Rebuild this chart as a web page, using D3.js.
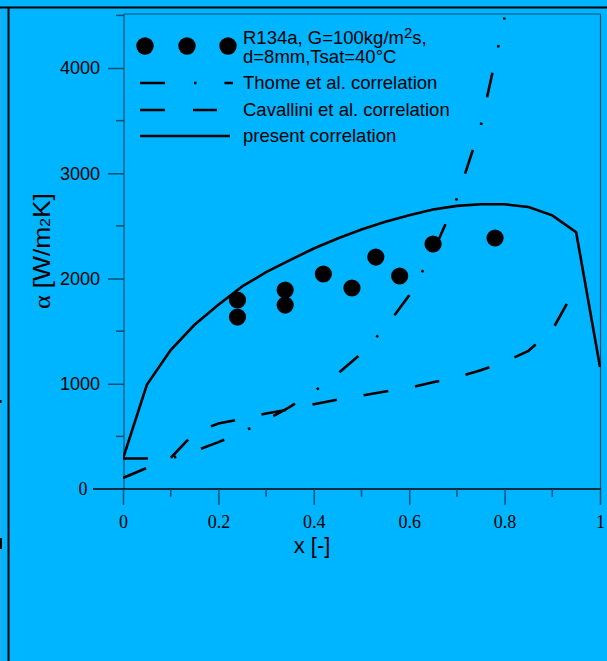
<!DOCTYPE html>
<html>
<head>
<meta charset="utf-8">
<script src="https://cdn.jsdelivr.net/npm/d3@7"></script>
<style>
html,body{margin:0;padding:0;background:#00b5ff;}
svg{display:block;}
</style>
</head>
<body>
<svg id="chart" width="607" height="661"></svg>
<script>
// ---- data ----
const xTickValues = [0, 0.2, 0.4, 0.6, 0.8, 1];
const xTickLabels = ["0", "0.2", "0.4", "0.6", "0.8", "1"];
const xMinorTicks = [0.1, 0.3, 0.5, 0.7, 0.9];
const yTickValues = [1000, 2000, 3000, 4000];
const yTickLabels = ["1000", "2000", "3000", "4000"];
const yMinorTicks = [500, 1500, 2500, 3500, 4500];

const expX = [0.24, 0.24, 0.34, 0.34, 0.42, 0.48, 0.53, 0.58, 0.65, 0.78];
const expY = [1796, 1634, 1891, 1748, 2043, 1910, 2204, 2024, 2328, 2385];

const thomeX = [0, 0.05, 0.1, 0.15, 0.2, 0.25, 0.3, 0.35, 0.4, 0.45, 0.5, 0.55, 0.6, 0.65, 0.7, 0.75, 0.8];
const thomeY = [290, 290, 290, 360, 445, 540, 655, 780, 925, 1095, 1290, 1535, 1840, 2250, 2760, 3450, 4480];

const cavX = [0, 0.05, 0.1, 0.15, 0.2, 0.25, 0.3, 0.35, 0.4, 0.45, 0.5, 0.55, 0.6, 0.65, 0.7, 0.75, 0.8, 0.85, 0.9, 0.95];
const cavY = [105, 200, 295, 535, 622, 668, 718, 756, 805, 850, 888, 926, 962, 1014, 1062, 1128, 1208, 1313, 1510, 1920];

const presX = [0, 0.05, 0.1, 0.15, 0.2, 0.25, 0.3, 0.35, 0.4, 0.45, 0.5, 0.55, 0.6, 0.65, 0.7, 0.75, 0.8, 0.85, 0.9, 0.95, 1];
const presY = [290, 990, 1320, 1560, 1750, 1925, 2060, 2175, 2285, 2380, 2465, 2540, 2600, 2655, 2690, 2705, 2705, 2680, 2600, 2440, 1160];

const legendLabels = ["Thome et al. correlation", "Cavallini et al. correlation", "present correlation"];

// ---- drawing ----
const svg = d3.select("#chart");
const x = d3.scaleLinear().domain([0, 1]).range([123, 600]);
const y = d3.scaleLinear().domain([0, 4500]).range([489, 15.4]);
const axisCol = "#0b4f72";

// outer frame decorations
svg.append("line").attr("x1", 0).attr("x2", 607).attr("y1", 7.5).attr("y2", 7.5).attr("stroke", "#000").attr("stroke-width", 2);
svg.append("line").attr("x1", 8.5).attr("x2", 8.5).attr("y1", 7).attr("y2", 661).attr("stroke", "#000").attr("stroke-width", 2);
svg.append("line").attr("x1", 0.5).attr("x2", 0.5).attr("y1", 10).attr("y2", 661).attr("stroke", "#3aa6d6").attr("stroke-width", 1);
svg.append("rect").attr("x", 0).attr("y", 400).attr("width", 1.5).attr("height", 3).attr("fill", "#000");
svg.append("rect").attr("x", 0).attr("y", 538).attr("width", 2).attr("height", 11).attr("fill", "#000");

// plot frame (top & right)
svg.append("line").attr("x1", 124).attr("x2", 600.5).attr("y1", 14).attr("y2", 14).attr("stroke", axisCol).attr("stroke-width", 1.2);
svg.append("line").attr("x1", 600.5).attr("x2", 600.5).attr("y1", 14).attr("y2", 489).attr("stroke", axisCol).attr("stroke-width", 1.2);

// y axis
const yAxis = d3.axisLeft(y).tickValues(yTickValues).tickFormat((d, i) => yTickLabels[i]).tickSize(16).tickPadding(8);
const gy = svg.append("g").attr("transform", "translate(124,0)").call(yAxis);
gy.select(".domain").attr("stroke", axisCol).attr("stroke-width", 1.2).attr("d", `M0,${y(0)}V14`);
gy.selectAll(".tick line").attr("stroke", axisCol).attr("stroke-width", 1.5);
gy.selectAll(".tick text").attr("font-family", "Liberation Sans, Arial, sans-serif").attr("font-size", 18).attr("fill", "#000");
gy.selectAll(".ymin").data(yMinorTicks).enter().append("line")
  .attr("x1", -8).attr("x2", 0).attr("y1", d => y(d)).attr("y2", d => y(d))
  .attr("stroke", axisCol).attr("stroke-width", 1.5);
// y zero label (serif)
svg.append("text").attr("x", 83).attr("y", y(0)).attr("dy", "0.35em").attr("text-anchor", "middle")
  .attr("font-family", "Liberation Serif, Times New Roman, serif").attr("font-size", 18).text("0");

// x axis
const xAxis = d3.axisBottom(x).tickValues(xTickValues).tickFormat((d, i) => xTickLabels[i]).tickSize(16).tickPadding(10);
const gx = svg.append("g").attr("transform", `translate(0,${y(0)})`).call(xAxis);
gx.select(".domain").attr("stroke", "#000").attr("stroke-width", 1.5).attr("d", "M93,0H600.5");
gx.selectAll(".tick line").attr("stroke", axisCol).attr("stroke-width", 1.5);
gx.selectAll(".tick text").attr("font-family", "Liberation Serif, Times New Roman, serif").attr("font-size", 18).attr("fill", "#000");
gx.selectAll(".xmin").data(xMinorTicks).enter().append("line")
  .attr("x1", d => x(d)).attr("x2", d => x(d)).attr("y1", 0).attr("y2", 8)
  .attr("stroke", axisCol).attr("stroke-width", 1.5);

// axis titles
svg.append("text").attr("x", 312).attr("y", 553).attr("text-anchor", "middle")
  .attr("font-family", "Liberation Sans, Arial, sans-serif").attr("font-size", 22).text("x [-]");
const yl = svg.append("text").attr("transform", "translate(50,251) rotate(-90)").attr("text-anchor", "middle")
  .attr("font-family", "Liberation Sans, Arial, sans-serif").attr("font-size", 24)
  .attr("textLength", 116).attr("lengthAdjust", "spacingAndGlyphs");
yl.append("tspan").attr("font-family", "Liberation Serif, Times New Roman, serif").text("α ");
yl.append("tspan").text("[W/m");
yl.append("tspan").attr("font-size", 14).text("2");
yl.append("tspan").text("K]");

// clip
svg.append("clipPath").attr("id", "clip").append("rect").attr("x", 123).attr("y", 14).attr("width", 478).attr("height", 476);
const plot = svg.append("g").attr("clip-path", "url(#clip)");

const line = d3.line().x(d => x(d[0])).y(d => y(d[1]));
plot.append("path").datum(d3.zip(thomeX, thomeY)).attr("d", line)
  .attr("fill", "none").attr("stroke", "#000").attr("stroke-width", 2.6).attr("stroke-dasharray", "25 26 2.5 26");
plot.append("path").datum(d3.zip(cavX, cavY)).attr("d", line)
  .attr("fill", "none").attr("stroke", "#000").attr("stroke-width", 2.6).attr("stroke-dasharray", "25 27");
plot.append("path").datum(d3.zip(presX, presY)).attr("d", line)
  .attr("fill", "none").attr("stroke", "#000").attr("stroke-width", 2.6);
plot.selectAll("circle.exp").data(d3.zip(expX, expY)).enter().append("circle")
  .attr("cx", d => x(d[0])).attr("cy", d => y(d[1])).attr("r", 8.6).attr("fill", "#000");

// legend
const lg = svg.append("g").attr("font-family", "Liberation Sans, Arial, sans-serif").attr("font-size", 18.5);
[145, 187, 228].forEach(cx => lg.append("circle").attr("cx", cx).attr("cy", 46).attr("r", 8.7).attr("fill", "#000"));
const t1 = lg.append("text").attr("x", 243).attr("y", 44);
t1.append("tspan").text("R134a, G=100kg/m");
t1.append("tspan").attr("font-size", 15).attr("dy", -6).text("2");
t1.append("tspan").attr("dy", 6).text("s,");
lg.append("text").attr("x", 243).attr("y", 63).text("d=8mm,Tsat=40°C");
const legY = [83, 110, 136];
const legDash = ["25 29 2.5 28", "25 28", null];
const legW = [93, 77, 90];
legendLabels.forEach((lab, i) => {
  lg.append("line").attr("x1", 140).attr("x2", 140 + legW[i]).attr("y1", legY[i]).attr("y2", legY[i])
    .attr("stroke", "#000").attr("stroke-width", 2.6).attr("stroke-dasharray", legDash[i]);
  lg.append("text").attr("x", 243).attr("y", legY[i] + 6).text(lab);
});
</script>
</body>
</html>
